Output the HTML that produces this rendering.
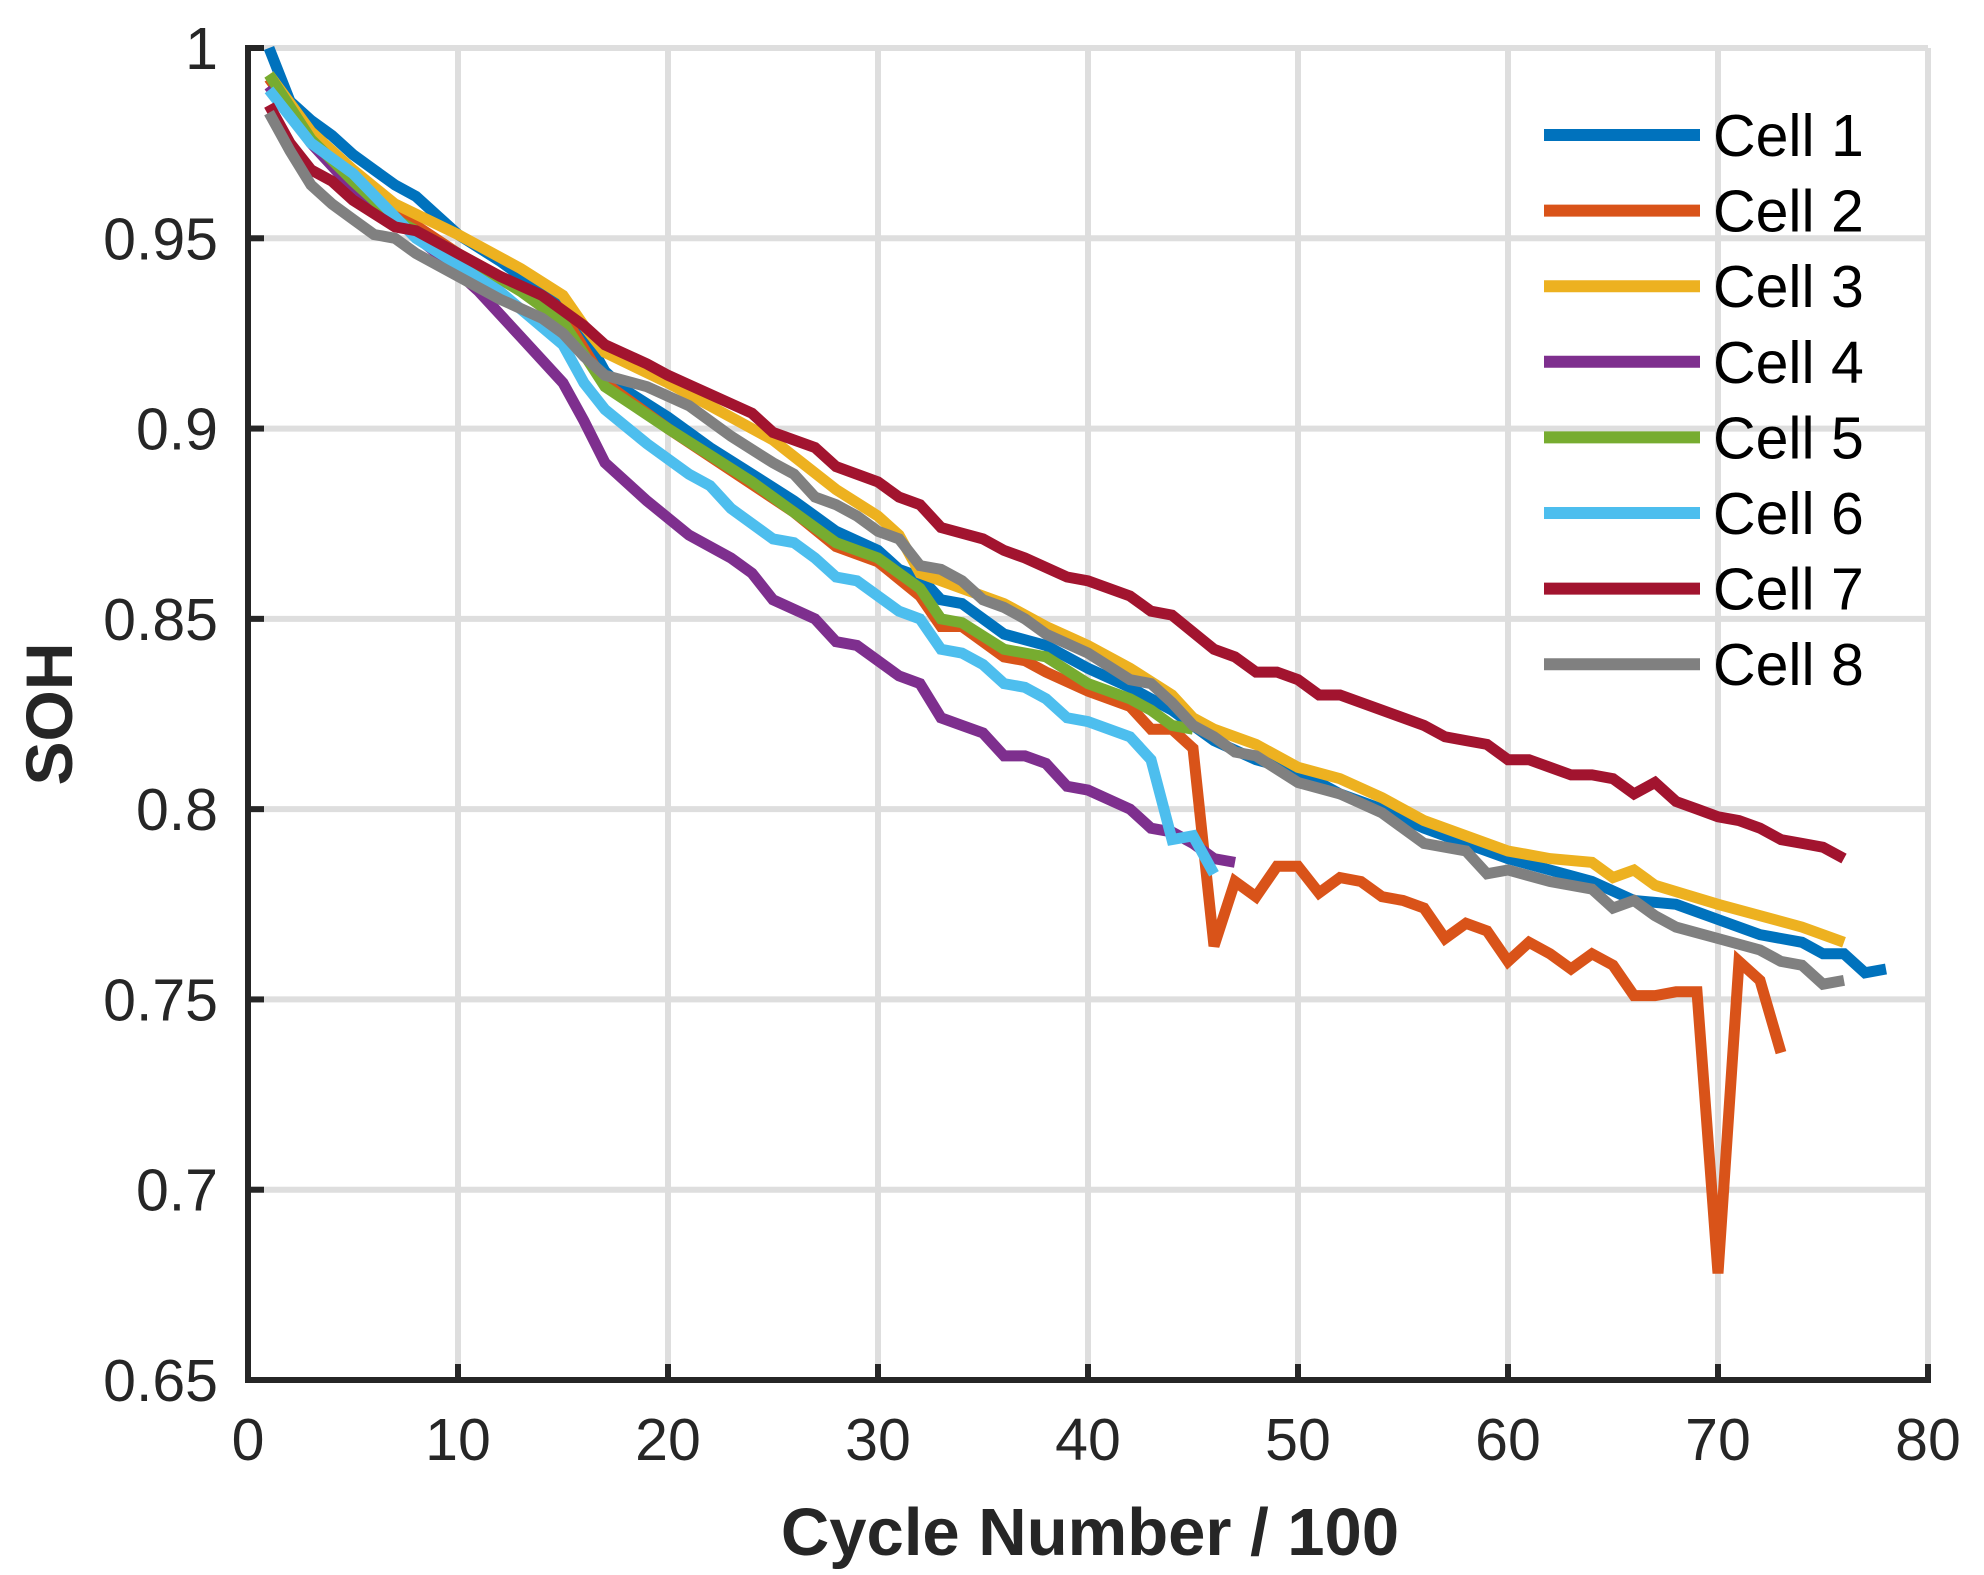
<!DOCTYPE html>
<html><head><meta charset="utf-8"><style>
html,body{margin:0;padding:0;background:#fff;}
svg{display:block;font-family:"Liberation Sans",Arial,sans-serif;}
</style></head><body>
<svg id="chart" width="1984" height="1575" viewBox="0 0 1984 1575" xmlns="http://www.w3.org/2000/svg">
<g id="grid"></g>
<g id="series"></g>
<g id="axes"></g>
<g id="legend"></g>
<text x="1090" y="1555" text-anchor="middle" font-size="67" font-weight="bold" fill="#262626">Cycle Number / 100</text>
<text transform="translate(72,714) rotate(-90)" text-anchor="middle" font-size="66" font-weight="bold" fill="#262626">SOH</text>
</svg>
<script>
const xTicks = [0,10,20,30,40,50,60,70,80];
const yTicks = [0.65,0.7,0.75,0.8,0.85,0.9,0.95,1];
const yTickLabels = ["0.65","0.7","0.75","0.8","0.85","0.9","0.95","1"];
const seriesNames = ["Cell 1","Cell 2","Cell 3","Cell 4","Cell 5","Cell 6","Cell 7","Cell 8"];
const seriesColors = ["#0072BD","#D95319","#EDB120","#7E2F8E","#77AC30","#4DBEEE","#A2142F","#808080"];
const cell1X = [1,2,3,4,5,6,7,8,9,10,12,14,15,16,17,18,20,22,24,26,28,30,31,32,33,34,36,38,40,42,44,46,48,50,52,54,56,58,60,62,64,66,68,70,72,74,75,76,77,78];
const cell1Y = [1.0,0.986,0.981,0.977,0.972,0.968,0.964,0.961,0.956,0.951,0.944,0.936,0.932,0.925,0.915,0.910,0.903,0.895,0.888,0.881,0.873,0.868,0.863,0.861,0.855,0.854,0.846,0.843,0.837,0.832,0.826,0.818,0.813,0.810,0.804,0.800,0.795,0.791,0.787,0.784,0.781,0.776,0.775,0.771,0.767,0.765,0.762,0.762,0.757,0.758];
const cell2X = [1,3,5,7,10,13,15,17,20,23,26,28,30,32,33,34,36,37,38,40,42,43,44,45,46,47,48,49,50,51,52,53,54,55,56,57,58,59,60,61,62,63,64,65,66,67,68,69,70,71,72,73];
const cell2Y = [0.992,0.977,0.966,0.957,0.946,0.937,0.930,0.912,0.900,0.889,0.878,0.869,0.865,0.856,0.848,0.848,0.840,0.839,0.836,0.831,0.827,0.821,0.821,0.816,0.764,0.781,0.777,0.785,0.785,0.778,0.782,0.781,0.777,0.776,0.774,0.766,0.770,0.768,0.760,0.765,0.762,0.758,0.762,0.759,0.751,0.751,0.752,0.752,0.678,0.760,0.755,0.736];
const cell3X = [1,3,5,7,10,13,15,16,17,20,23,25,28,30,31,32,34,36,38,40,42,44,45,46,48,50,52,54,56,58,60,62,64,65,66,67,70,72,74,76];
const cell3Y = [0.993,0.978,0.968,0.959,0.951,0.942,0.935,0.927,0.920,0.912,0.903,0.897,0.884,0.877,0.872,0.862,0.858,0.854,0.848,0.843,0.837,0.830,0.824,0.821,0.817,0.811,0.808,0.803,0.797,0.793,0.789,0.787,0.786,0.782,0.784,0.780,0.775,0.772,0.769,0.765];
const cell4X = [1,3,5,7,9,11,13,15,16,17,19,21,23,24,25,27,28,29,31,32,33,34,35,36,37,38,39,40,42,43,44,45,46,47];
const cell4Y = [0.990,0.975,0.963,0.955,0.946,0.936,0.924,0.912,0.902,0.891,0.881,0.872,0.866,0.862,0.855,0.850,0.844,0.843,0.835,0.833,0.824,0.822,0.820,0.814,0.814,0.812,0.806,0.805,0.800,0.795,0.794,0.791,0.787,0.786];
const cell5X = [1,3,5,7,10,13,15,17,20,22,24,26,28,30,32,33,34,36,38,40,42,43,44,45];
const cell5Y = [0.993,0.976,0.965,0.955,0.946,0.936,0.928,0.911,0.900,0.893,0.886,0.878,0.870,0.866,0.858,0.850,0.849,0.842,0.840,0.833,0.829,0.826,0.822,0.821];
const cell6X = [1,3,5,8,10,12,15,16,17,19,21,22,23,25,26,27,28,29,31,32,33,34,35,36,37,38,39,40,42,43,44,45,46];
const cell6Y = [0.989,0.975,0.967,0.950,0.943,0.936,0.922,0.912,0.905,0.896,0.888,0.885,0.879,0.871,0.870,0.866,0.861,0.860,0.852,0.850,0.842,0.841,0.838,0.833,0.832,0.829,0.824,0.823,0.819,0.813,0.792,0.793,0.783];
const cell7X = [1,2,3,4,5,7,8,10,12,14,15,16,17,19,20,22,24,25,27,28,30,31,32,33,35,36,37,39,40,42,43,44,46,47,48,49,50,51,52,54,56,57,58,59,60,61,62,63,64,65,66,67,68,69,70,71,72,73,74,75,76];
const cell7Y = [0.985,0.975,0.968,0.965,0.960,0.953,0.952,0.946,0.940,0.935,0.931,0.927,0.922,0.917,0.914,0.909,0.904,0.899,0.895,0.890,0.886,0.882,0.880,0.874,0.871,0.868,0.866,0.861,0.860,0.856,0.852,0.851,0.842,0.840,0.836,0.836,0.834,0.830,0.830,0.826,0.822,0.819,0.818,0.817,0.813,0.813,0.811,0.809,0.809,0.808,0.804,0.807,0.802,0.800,0.798,0.797,0.795,0.792,0.791,0.790,0.787];
const cell8X = [1,2,3,4,5,6,7,8,10,12,14,15,16,17,19,21,23,25,26,27,28,29,30,31,32,33,34,35,36,37,38,40,42,43,44,45,46,47,48,50,52,54,56,58,59,60,62,64,65,66,67,68,70,72,73,74,75,76];
const cell8Y = [0.983,0.973,0.964,0.959,0.955,0.951,0.950,0.946,0.940,0.934,0.929,0.925,0.919,0.914,0.911,0.906,0.898,0.891,0.888,0.882,0.880,0.877,0.873,0.871,0.864,0.863,0.860,0.855,0.853,0.850,0.846,0.841,0.834,0.833,0.828,0.822,0.819,0.815,0.814,0.807,0.804,0.799,0.791,0.789,0.783,0.784,0.781,0.779,0.774,0.776,0.772,0.769,0.766,0.763,0.760,0.759,0.754,0.755];
const seriesX = [cell1X,cell2X,cell3X,cell4X,cell5X,cell6X,cell7X,cell8X];
const seriesY = [cell1Y,cell2Y,cell3Y,cell4Y,cell5Y,cell6Y,cell7Y,cell8Y];

const NS = "http://www.w3.org/2000/svg";
const L = 248, R = 1928, T = 48, B = 1380;
const xMin = 0, xMax = 80, yMin = 0.65, yMax = 1;
function sx(v){ return L + (v - xMin) / (xMax - xMin) * (R - L); }
function sy(v){ return B - (v - yMin) / (yMax - yMin) * (B - T); }
function mk(tag, attrs, parent){ const e = document.createElementNS(NS, tag); for (const k in attrs) e.setAttribute(k, attrs[k]); parent.appendChild(e); return e; }

const grid = document.getElementById('grid');
xTicks.forEach(function(t){
  if (t === xMin) return;
  const g = mk('line', {x1: sx(t), x2: sx(t), y1: T, y2: B, stroke: '#dedede', 'stroke-width': 6}, grid);
  
  
});
yTicks.forEach(function(t){
  if (t === yMin) return;
  const g = mk('line', {x1: L, x2: R, y1: sy(t), y2: sy(t), stroke: '#dedede', 'stroke-width': 6}, grid);
  
  
});

const ser = document.getElementById('series');
seriesX.forEach(function(xs, i){
  const ys = seriesY[i];
  let d = '';
  xs.forEach(function(x, j){ d += (j ? 'L' : 'M') + sx(x).toFixed(1) + ',' + sy(ys[j]).toFixed(1); });
  const p = mk('path', {d: d, fill: 'none', stroke: seriesColors[i], 'stroke-width': 11, 'stroke-linejoin': 'miter', 'stroke-miterlimit': 3}, ser);
  
  
});

const axes = document.getElementById('axes');
const xa = mk('line', {x1: L - 3, x2: R + 3, y1: B, y2: B, stroke: '#262626', 'stroke-width': 6}, axes);


const ya = mk('line', {x1: L, x2: L, y1: T - 3, y2: B + 3, stroke: '#262626', 'stroke-width': 6}, axes);


xTicks.forEach(function(t){
  const tk = mk('line', {x1: sx(t), x2: sx(t), y1: B, y2: B - 16, stroke: '#262626', 'stroke-width': 6}, axes);
  
  
  const tx = mk('text', {x: sx(t), y: 1460, 'text-anchor': 'middle', 'font-size': 59, fill: '#262626'}, axes);
  tx.textContent = String(t);
  
  
});
yTicks.forEach(function(t, i){
  const tk = mk('line', {x1: L, x2: L + 16, y1: sy(t), y2: sy(t), stroke: '#262626', 'stroke-width': 6}, axes);
  
  
  const tx = mk('text', {x: 218, y: sy(t) + 21, 'text-anchor': 'end', 'font-size': 59, fill: '#262626'}, axes);
  tx.textContent = yTickLabels[i];
  
  
});

const leg = document.getElementById('legend');
seriesNames.forEach(function(n, i){
  const cy = 135 + i * 75.6;
  const ln = mk('line', {x1: 1544, x2: 1700, y1: cy, y2: cy, stroke: seriesColors[i], 'stroke-width': 12}, leg);
  
  
  const tx = mk('text', {x: 1713, y: cy + 21, 'font-size': 59, fill: '#000'}, leg);
  tx.textContent = n;
  
  
});
</script>
</body></html>
